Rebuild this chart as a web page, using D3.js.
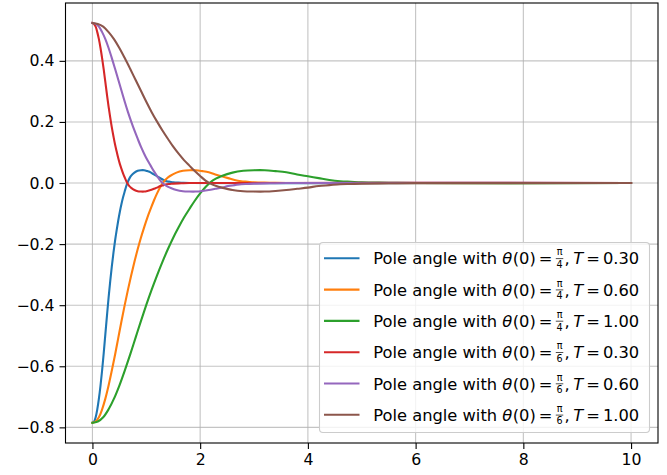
<!DOCTYPE html>
<html><head><meta charset="utf-8">
<script src="https://cdn.jsdelivr.net/npm/d3@7"></script>
<style>body{margin:0;background:#fff}svg{display:block}text{font-family:"DejaVu Sans",sans-serif;fill:#000}</style>
</head><body>
<svg id="chart" width="667" height="475"></svg>
<script>
// ---------- data ----------
const xTicks = [0, 2, 4, 6, 8, 10];
const yTicks = [-0.8, -0.6, -0.4, -0.2, 0.0, 0.2, 0.4];
const seriesColors = ['#1f77b4', '#ff7f0e', '#2ca02c', '#d62728', '#9467bd', '#8c564b'];
const legendDenominators = ['4', '4', '4', '6', '6', '6'];
const legendPeriods = ['0.30', '0.60', '1.00', '0.30', '0.60', '1.00'];

const tQ4T030 = [0,0.03,0.06,0.09,0.12,0.15,0.18,0.21,0.24,0.27,0.30,0.33,0.36,0.39,0.42,0.45,0.48,0.51,0.54,0.57,0.60,0.63,0.66,0.69,0.72,0.78,0.84,0.90,0.96,1.02,1.08,1.14,1.20,1.26,1.32,1.38,1.44,1.50,1.65,1.80,10];
const yQ4T030 = [-0.785,-0.781,-0.767,-0.741,-0.706,-0.663,-0.613,-0.556,-0.495,-0.434,-0.375,-0.322,-0.273,-0.229,-0.189,-0.154,-0.122,-0.093,-0.068,-0.046,-0.027,-0.009,0.005,0.016,0.024,0.034,0.040,0.042,0.042,0.039,0.035,0.028,0.022,0.016,0.010,0.006,0.004,0.002,0.001,0.000,0.000];

const tQ4T060 = [0,0.06,0.12,0.18,0.24,0.30,0.36,0.42,0.48,0.54,0.60,0.66,0.72,0.78,0.84,0.90,0.96,1.02,1.08,1.14,1.20,1.26,1.32,1.38,1.44,1.56,1.68,1.80,1.92,2.04,2.16,2.28,2.40,2.52,2.64,2.76,2.88,3.00,3.30,3.60,10];
const yQ4T060 = [-0.785,-0.781,-0.767,-0.741,-0.706,-0.663,-0.614,-0.562,-0.507,-0.452,-0.399,-0.349,-0.302,-0.258,-0.217,-0.179,-0.145,-0.113,-0.085,-0.058,-0.034,-0.013,0.004,0.015,0.023,0.034,0.040,0.042,0.042,0.039,0.035,0.028,0.022,0.016,0.010,0.006,0.004,0.002,0.001,0.000,0.000];

const tQ4T100 = [0,0.1,0.2,0.3,0.4,0.5,0.6,0.7,0.8,0.9,1.0,1.1,1.2,1.3,1.4,1.5,1.6,1.7,1.8,1.9,2.0,2.1,2.2,2.3,2.4,2.6,2.8,3.0,3.2,3.4,3.6,3.8,4.0,4.2,4.4,4.6,4.8,5.0,5.5,6.0,10];
const yQ4T100 = [-0.785,-0.781,-0.767,-0.741,-0.706,-0.663,-0.614,-0.562,-0.507,-0.452,-0.399,-0.349,-0.302,-0.258,-0.217,-0.179,-0.145,-0.113,-0.085,-0.058,-0.034,-0.013,0.004,0.015,0.023,0.034,0.040,0.042,0.042,0.039,0.035,0.028,0.022,0.016,0.010,0.006,0.004,0.002,0.001,0.000,0.000];

const tQ6T030 = [0,0.03,0.06,0.09,0.12,0.15,0.18,0.21,0.24,0.27,0.30,0.33,0.36,0.39,0.42,0.45,0.48,0.51,0.54,0.57,0.60,0.63,0.66,0.69,0.72,0.78,0.84,0.90,0.96,1.02,1.08,1.14,1.20,1.26,1.32,1.38,1.44,1.50,1.65,1.80,10];
const yQ6T030 = [0.524,0.521,0.512,0.494,0.471,0.442,0.408,0.371,0.330,0.289,0.250,0.215,0.182,0.153,0.126,0.103,0.081,0.062,0.046,0.031,0.018,0.006,-0.004,-0.011,-0.016,-0.023,-0.027,-0.028,-0.028,-0.026,-0.023,-0.019,-0.015,-0.010,-0.007,-0.004,-0.003,-0.002,-0.001,0.000,0.000];

const tQ6T060 = [0,0.06,0.12,0.18,0.24,0.30,0.36,0.42,0.48,0.54,0.60,0.66,0.72,0.78,0.84,0.90,0.96,1.02,1.08,1.14,1.20,1.26,1.32,1.38,1.44,1.56,1.68,1.80,1.92,2.04,2.16,2.28,2.40,2.52,2.64,2.76,2.88,3.00,3.30,3.60,10];
const yQ6T060 = [0.524,0.521,0.512,0.494,0.471,0.442,0.409,0.374,0.338,0.302,0.266,0.232,0.201,0.172,0.145,0.119,0.096,0.075,0.057,0.039,0.023,0.008,-0.003,-0.010,-0.015,-0.023,-0.027,-0.028,-0.028,-0.026,-0.023,-0.019,-0.015,-0.010,-0.007,-0.004,-0.003,-0.002,-0.001,0.000,0.000];

const tQ6T100 = [0,0.1,0.2,0.3,0.4,0.5,0.6,0.7,0.8,0.9,1.0,1.1,1.2,1.3,1.4,1.5,1.6,1.7,1.8,1.9,2.0,2.1,2.2,2.3,2.4,2.6,2.8,3.0,3.2,3.4,3.6,3.8,4.0,4.2,4.4,4.6,4.8,5.0,5.5,6.0,10];
const yQ6T100 = [0.524,0.521,0.512,0.494,0.471,0.442,0.409,0.374,0.338,0.302,0.266,0.232,0.201,0.172,0.145,0.119,0.096,0.075,0.057,0.039,0.023,0.008,-0.003,-0.010,-0.015,-0.023,-0.027,-0.028,-0.028,-0.026,-0.023,-0.019,-0.015,-0.010,-0.007,-0.004,-0.003,-0.002,-0.001,0.000,0.000];

const seriesT = [tQ4T030, tQ4T060, tQ4T100, tQ6T030, tQ6T060, tQ6T100];
const seriesY = [yQ4T030, yQ4T060, yQ4T100, yQ6T030, yQ6T060, yQ6T100];

// ---------- layout ----------
const L = 65.5, R = 658, T = 3, B = 443;
const FS = 15.7, LF = 16.3;
const svg = d3.select('#chart');
const x = d3.scaleLinear().domain([-0.5, 10.5]).range([L, R]);
const y = d3.scaleLinear().domain([-0.8512, 0.5894]).range([B, T]);

svg.append('rect').attr('width', 667).attr('height', 475).attr('fill', '#fff');

// grid
const grid = svg.append('g').attr('stroke', '#b0b0b0').attr('stroke-width', 1.1).attr('stroke-opacity', 0.75);
xTicks.forEach(v => grid.append('line').attr('x1', x(v)).attr('x2', x(v)).attr('y1', T).attr('y2', B));
yTicks.forEach(v => grid.append('line').attr('y1', y(v)).attr('y2', y(v)).attr('x1', L).attr('x2', R));

// clip
svg.append('clipPath').attr('id', 'clip').append('rect').attr('x', L).attr('y', T).attr('width', R - L).attr('height', B - T);

const line = d3.line().x(d => x(d[0])).y(d => y(d[1])).curve(d3.curveCatmullRom.alpha(0.5));
const plot = svg.append('g').attr('clip-path', 'url(#clip)');
seriesT.forEach((ts, i) => {
  const pts = ts.map((t, k) => [t, seriesY[i][k]]);
  plot.append('path').attr('d', line(pts)).attr('fill', 'none')
    .attr('stroke', seriesColors[i]).attr('stroke-width', 2.1)
    .attr('stroke-linejoin', 'round').attr('stroke-linecap', 'square');
});

// axes
const xAxis = d3.axisBottom(x).tickValues(xTicks).tickSize(6).tickSizeOuter(0).tickPadding(4.5).tickFormat(d3.format('d'));
const yAxis = d3.axisLeft(y).tickValues(yTicks).tickSize(6).tickSizeOuter(0).tickPadding(5).tickFormat(d3.format('.1f'));
const gx = svg.append('g').attr('transform', `translate(0,${B})`).call(xAxis);
const gy = svg.append('g').attr('transform', `translate(${L},0)`).call(yAxis);
[gx, gy].forEach(g => {
  g.select('.domain').remove();
  g.selectAll('.tick line').attr('stroke', '#000').attr('stroke-width', 1.1);
  g.selectAll('.tick text').attr('font-size', FS).attr('font-family', '"DejaVu Sans", sans-serif').attr('fill', '#000');
});
svg.append('rect').attr('x', L).attr('y', T).attr('width', R - L).attr('height', B - T)
  .attr('fill', 'none').attr('stroke', '#000').attr('stroke-width', 1.1);

// legend
const lg = svg.append('g');
lg.append('rect').attr('x', 319.5).attr('y', 242.5).attr('width', 330).attr('height', 190)
  .attr('rx', 3.5).attr('fill', '#fff').attr('fill-opacity', 0.8).attr('stroke', '#cccccc').attr('stroke-width', 1.1);

function drawLabel(g, x0, yb, den, period) {
  let cx = x0;
  const put = (txt, italic, gapAfter) => {
    const t = g.append('text').attr('x', cx).attr('y', yb).attr('font-size', LF)
      .attr('font-style', italic ? 'italic' : 'normal').text(txt);
    cx += t.node().getComputedTextLength() + gapAfter;
  };
  put('Pole angle with', false, LF * 0.318);
  put('θ', true, 0.5);
  put('(0)', false, 3);
  put('=', false, 3);
  const fs = 9.6;
  const num = g.append('text').attr('font-size', fs).attr('text-anchor', 'middle').attr('y', yb - 9).text('π');
  const dnm = g.append('text').attr('font-size', fs).attr('text-anchor', 'middle').attr('y', yb + 3.6).text(den);
  const w = Math.max(num.node().getComputedTextLength(), dnm.node().getComputedTextLength()) + 2;
  num.attr('x', cx + w / 2); dnm.attr('x', cx + w / 2);
  g.append('line').attr('x1', cx + 0.3).attr('x2', cx + w - 0.3).attr('y1', yb - 5.7).attr('y2', yb - 5.7)
    .attr('stroke', '#000').attr('stroke-width', 0.7);
  cx += w + 1;
  put(',', false, 3.5);
  put('T', true, 3);
  put('=', false, 3);
  put(period, false, 0);
}

seriesColors.forEach((c, i) => {
  const cy = 258.3 + i * 31.3;
  lg.append('line').attr('x1', 324).attr('x2', 359.5).attr('y1', cy).attr('y2', cy)
    .attr('stroke', c).attr('stroke-width', 2.1);
  drawLabel(lg, 373.3, cy + 6, legendDenominators[i], legendPeriods[i]);
});
</script>
</body></html>
